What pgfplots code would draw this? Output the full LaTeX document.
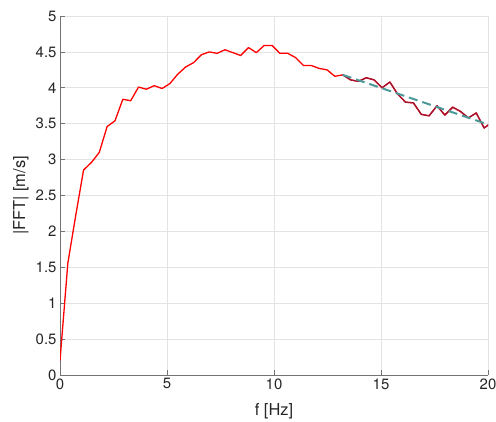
\documentclass[border=0pt]{standalone}
\usepackage{fontspec}
\setmainfont{TeX Gyre Heros}
\usepackage{pgfplots}
\usepackage{pgfplotstable}
\pgfplotsset{compat=1.18}
\definecolor{mred}{rgb}{1,0,0}
\definecolor{mdark}{rgb}{0.635,0.078,0.184}
\definecolor{mteal}{rgb}{0.30,0.60,0.60}
\definecolor{mgrid}{rgb}{0.89,0.89,0.89}
\definecolor{mtext}{rgb}{0.15,0.15,0.15}

\pgfplotstableread{
f v
0.000 0.20
0.367 1.56
0.734 2.22
1.101 2.855
1.468 2.96
1.835 3.10
2.202 3.46
2.569 3.54
2.936 3.84
3.303 3.82
3.670 4.01
4.037 3.98
4.404 4.03
4.771 3.99
5.138 4.06
5.505 4.19
5.872 4.29
6.239 4.35
6.606 4.46
6.973 4.50
7.340 4.48
7.707 4.53
8.074 4.49
8.441 4.45
8.808 4.56
9.175 4.49
9.542 4.59
9.909 4.59
10.276 4.48
10.643 4.48
11.010 4.42
11.377 4.31
11.744 4.31
12.111 4.27
12.478 4.25
12.845 4.16
13.212 4.18
13.579 4.11
13.946 4.09
14.313 4.14
14.680 4.11
15.047 4.00
15.414 4.08
15.781 3.91
16.148 3.80
16.515 3.79
16.882 3.63
17.249 3.61
17.616 3.75
17.983 3.62
18.350 3.73
18.717 3.67
19.084 3.58
19.451 3.65
19.818 3.44
20.185 3.52
}\fulldata

\pgfplotstableread{
f v
13.212 4.18
13.579 4.11
13.946 4.09
14.313 4.14
14.680 4.11
15.047 4.00
15.414 4.08
15.781 3.91
16.148 3.80
16.515 3.79
16.882 3.63
17.249 3.61
17.616 3.75
17.983 3.62
18.350 3.73
18.717 3.67
19.084 3.58
19.451 3.65
19.818 3.44
20.185 3.52
}\segdata

\pgfplotstableread{
f v
13.212 4.18
20.000 3.49
}\fitdata

\begin{document}
\begin{tikzpicture}
\begin{axis}[
  at={(0,0)}, anchor=south west,
  scale only axis, width=428bp, height=359bp,
  xmin=0, xmax=20, ymin=0, ymax=5,
  xtick={0,5,10,15,20},
  ytick={0,0.5,1,1.5,2,2.5,3,3.5,4,4.5,5},
  yticklabels={0,0.5,1,1.5,2,2.5,3,3.5,4,4.5,5},
  axis x line*=bottom, axis y line*=left,
  axis line style={draw=black!55, line width=0.6bp, -},
  tick style={draw=black!55, line width=0.6bp},
  tick align=inside, major tick length=5bp,
  grid=major, grid style={draw=mgrid, line width=0.6bp},
  /pgf/number format/assume math mode=true,
  tick label style={font=\fontsize{15}{18}\selectfont, text=mtext},
  label style={font=\fontsize{16.5}{20}\selectfont, text=mtext},
  xlabel={f [Hz]}, ylabel={|FFT| [m/s]},
  xlabel style={at={([yshift=-36bp]axis description cs:0.5,0)}, anchor=center},
  ylabel style={at={([xshift=-39bp]axis description cs:0,0.5)}, anchor=center},
  clip=true,
]
\addplot[mred, line width=1.3bp, line join=round] table[x=f, y=v] {\fulldata};
\addplot[mdark, line width=1.3bp, line join=round] table[x=f, y=v] {\segdata};
\addplot[mteal, line width=2bp, dash pattern=on 9bp off 5bp] table[x=f, y=v] {\fitdata};
\end{axis}
\pgfresetboundingbox
\path[use as bounding box] (-60bp,-47bp) rectangle (436bp,375bp);
\end{tikzpicture}
\end{document}
